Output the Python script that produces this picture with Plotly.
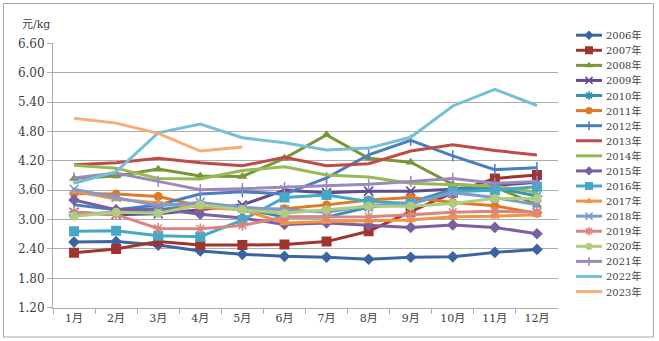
import plotly.graph_objects as go

W, H = 659, 341

# ---- data -------------------------------------------------------------
months = ["1月", "2月", "3月", "4月", "5月", "6月", "7月", "8月", "9月", "10月", "11月", "12月"]
y_ticks = [1.20, 1.80, 2.40, 3.00, 3.60, 4.20, 4.80, 5.40, 6.00, 6.60]

p2006 = [2.54, 2.55, 2.48, 2.36, 2.29, 2.25, 2.23, 2.19, 2.23, 2.24, 2.33, 2.39]
p2007 = [2.32, 2.40, 2.55, 2.48, 2.48, 2.49, 2.55, 2.76, 3.16, 3.55, 3.84, 3.91]
p2008 = [3.84, 3.89, 4.03, 3.89, 3.88, 4.25, 4.73, 4.25, 4.17, 3.72, 3.67, 3.30]
p2009 = [3.15, 3.10, 3.12, 3.20, 3.30, 3.60, 3.55, 3.58, 3.58, 3.62, 3.70, 3.76]
p2010 = [3.10, 3.15, 3.20, 3.30, 3.22, 3.05, 3.05, 3.25, 3.35, 3.62, 3.65, 3.48]
p2011 = [3.53, 3.52, 3.47, 3.28, 3.20, 3.22, 3.30, 3.40, 3.45, 3.35, 3.28, 3.13]
p2012 = [3.30, 3.20, 3.30, 3.52, 3.57, 3.52, 3.85, 4.32, 4.62, 4.30, 4.02, 4.06]
p2013 = [4.12, 4.16, 4.25, 4.16, 4.10, 4.27, 4.10, 4.14, 4.40, 4.53, 4.41, 4.32]
p2014 = [4.11, 4.05, 3.84, 3.83, 4.00, 4.08, 3.91, 3.87, 3.74, 3.71, 3.68, 3.56]
p2015 = [3.40, 3.20, 3.22, 3.11, 3.03, 2.90, 2.93, 2.88, 2.84, 2.89, 2.84, 2.71]
p2016 = [2.76, 2.77, 2.67, 2.65, 2.99, 3.45, 3.50, 3.37, 3.33, 3.57, 3.60, 3.67]
p2017 = [3.58, 3.42, 3.34, 3.25, 3.20, 2.93, 2.96, 2.97, 2.99, 3.06, 3.07, 3.10]
p2018 = [3.62, 3.45, 3.28, 3.35, 3.25, 3.20, 3.15, 3.28, 3.32, 3.55, 3.45, 3.30]
p2019 = [3.15, 3.10, 2.82, 2.81, 2.88, 3.05, 3.05, 3.06, 3.10, 3.15, 3.17, 3.15]
p2020 = [3.07, 3.15, 3.13, 3.30, 3.20, 3.13, 3.20, 3.27, 3.27, 3.33, 3.43, 3.43]
p2021 = [3.85, 3.95, 3.78, 3.61, 3.63, 3.66, 3.69, 3.72, 3.78, 3.84, 3.74, 3.78]
p2022 = [3.74, 3.98, 4.77, 4.95, 4.67, 4.57, 4.42, 4.46, 4.68, 5.32, 5.66, 5.33]
p2023 = [5.07, 4.97, 4.76, 4.40, 4.48]

# (name, values, colour, marker symbol or None)
series = [
    ("2006年", p2006, "#3A64A3", "diamond"),
    ("2007年", p2007, "#A0342F", "square"),
    ("2008年", p2008, "#78963A", "triangle-up"),
    ("2009年", p2009, "#634B8C", "x-thin-open"),
    ("2010年", p2010, "#3592AE", "asterisk-open"),
    ("2011年", p2011, "#DE7A25", "circle"),
    ("2012年", p2012, "#4A7EBF", "line-ns-open"),
    ("2013年", p2013, "#BE4B48", None),
    ("2014年", p2014, "#98B954", None),
    ("2015年", p2015, "#7B5FA0", "diamond"),
    ("2016年", p2016, "#45A9C6", "square"),
    ("2017年", p2017, "#F6913F", "triangle-up"),
    ("2018年", p2018, "#7E9BD0", "x-thin-open"),
    ("2019年", p2019, "#D98682", "asterisk-open"),
    ("2020年", p2020, "#B0CC80", "circle"),
    ("2021年", p2021, "#9C88BC", "line-ns-open"),
    ("2022年", p2022, "#76BFD4", None),
    ("2023年", p2023, "#F8AC78", None),
]

SERIF = "DejaVu Serif, Noto Sans CJK SC"
GRID = "#ADADAD"

# plot area in pixels
PX0, PX1 = 53, 558
PY0, PY1 = 43.3, 307.7


def marker_style(sym, color, scale=1.0):
    if sym is None:
        return dict(size=1, opacity=0)
    if sym == "line-ns-open":
        return dict(symbol=sym, size=8 * scale, color=color, line=dict(color=color, width=1.5))
    if sym.endswith("-open"):
        return dict(symbol=sym, size=9 * scale, color=color, line=dict(color=color, width=1.6))
    size = (10 if sym == "square" else 9) * scale
    return dict(symbol=sym, size=size, color=color, line=dict(color=color, width=0))


fig = go.Figure()

for name, vals, color, sym in series:
    fig.add_trace(go.Scatter(
        x=months[:len(vals)], y=vals, name=name,
        mode="lines+markers" if sym else "lines",
        line=dict(color=color, width=3),
        marker=marker_style(sym, color),
        showlegend=False, xaxis="x", yaxis="y",
    ))

# ---- legend drawn on a pixel-space overlay axis --------------------------
ROW0, ROWSTEP = 35.2, 15.08
for i, (name, vals, color, sym) in enumerate(series):
    yy = ROW0 + i * ROWSTEP
    fig.add_trace(go.Scatter(
        x=[576, 602], y=[yy, yy], mode="lines",
        line=dict(color=color, width=3),
        showlegend=False, hoverinfo="skip", xaxis="x2", yaxis="y2",
    ))
    if sym:
        fig.add_trace(go.Scatter(
            x=[589], y=[yy], mode="markers", marker=marker_style(sym, color, 0.8),
            showlegend=False, hoverinfo="skip", xaxis="x2", yaxis="y2",
        ))
    fig.add_annotation(
        x=603.5, y=yy, xref="x2", yref="y2", text=name, showarrow=False,
        xanchor="left", yanchor="middle",
        font=dict(family=SERIF, size=10, color="#404040"),
    )

fig.add_annotation(
    x=20 / W, y=1 - 24 / H, xref="paper", yref="paper", text="元/kg",
    showarrow=False, xanchor="left", yanchor="middle",
    font=dict(family=SERIF, size=11, color="#404040"),
)

# outer frame
fig.add_shape(type="rect", xref="paper", yref="paper",
              x0=3.5 / W, x1=653.5 / W, y0=1 - 337 / H, y1=1 - 3.5 / H,
              line=dict(color="#A8A8A8", width=1), layer="below")

fig.update_layout(
    width=W, height=H,
    margin=dict(l=0, r=0, t=0, b=0, pad=0),
    paper_bgcolor="white", plot_bgcolor="rgba(0,0,0,0)",
    xaxis=dict(
        type="category", domain=[PX0 / W, PX1 / W], range=[-0.5, 11.5],
        showgrid=False, zeroline=False, showline=True, linecolor=GRID, linewidth=1,
        ticks="outside", tickson="boundaries", ticklen=5, tickcolor=GRID,
        tickfont=dict(family=SERIF, size=11, color="#404040"),
        anchor="y", automargin=False, fixedrange=True,
    ),
    yaxis=dict(
        domain=[1 - PY1 / H, 1 - PY0 / H], range=[1.20, 6.60],
        tickvals=y_ticks, ticktext=[f"{v:.2f}" for v in y_ticks],
        showgrid=True, gridcolor=GRID, gridwidth=1, zeroline=False,
        showline=True, linecolor=GRID, linewidth=1,
        ticks="outside", ticklen=5, tickcolor=GRID,
        tickfont=dict(family=SERIF, size=12, color="#404040"),
        anchor="x", automargin=False, fixedrange=True,
    ),
    xaxis2=dict(domain=[0, 1], range=[0, W], visible=False, anchor="y2", fixedrange=True),
    yaxis2=dict(domain=[0, 1], range=[H, 0], visible=False, anchor="x2", fixedrange=True),
    showlegend=False,
)

fig.write_html("out.html")
